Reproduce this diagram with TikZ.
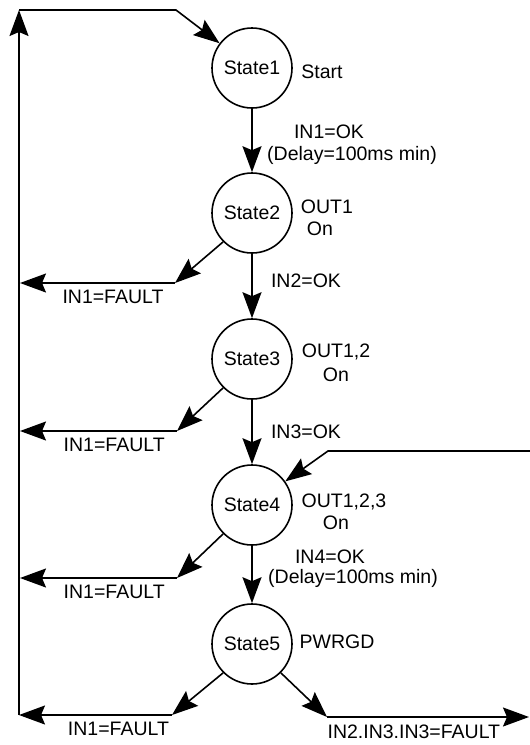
\documentclass[tikz,border=0pt]{standalone}
\usepackage{fontspec}
\setmainfont{Liberation Sans}
\usetikzlibrary{arrows.meta}
\begin{document}
\begin{tikzpicture}[x=1pt, y=-1pt, line width=1.6pt,
        every node/.style={font=\fontsize{19.5}{21}\selectfont},
        state/.style={draw, circle, minimum size=80pt, inner sep=0pt},
        arr/.style={-{Stealth[length=26pt, width=19pt, inset=4pt]}}]
    \useasboundingbox (0,0) rectangle (530,745);
    \path   node[state] (S1) at (252, 68) {State1}
            node[state] (S2) at (252, 213) {State2}
            node[state] (S3) at (252, 359) {State3}
            node[state] (S4) at (252, 505) {State4}
            node[state] (S5) at (252, 644) {State5};
    \path   node (L1) at (322, 72) {Start}
            node (L1a) at (329, 132) {IN1=OK}
            node (L1b) at (352, 155) {(Delay=100ms min)}
            node (L2) at (327, 207) {OUT1}
            node (L2a) at (320, 229) {On}
            node (L2b) at (306, 281) {IN2=OK}
            node (L3) at (336, 352) {OUT1,2}
            node (L3a) at (336, 375) {On}
            node (L3b) at (306, 432) {IN3=OK}
            node (L4) at (344, 502) {OUT1,2,3}
            node (L4a) at (336, 523) {On}
            node (L4b) at (330, 557) {IN4=OK}
            node (L4c) at (353, 578) {(Delay=100ms min)}
            node (L5) at (337, 642) {PWRGD};
    \path   coordinate (TL) at (19, 10)
            coordinate (BL) at (19, 715)
            coordinate (T1) at (176, 10)
            coordinate (R4) at (530, 451)
            coordinate (R4b) at (328, 451)
            coordinate (F2) at (175, 283)
            coordinate (F2e) at (20, 283)
            coordinate (F3) at (177, 431)
            coordinate (F3e) at (20, 431)
            coordinate (F4) at (177, 578)
            coordinate (F4e) at (20, 578)
            coordinate (F5) at (172, 715)
            coordinate (R5) at (327, 717)
            coordinate (R5e) at (529, 717);
    % forward path
    \draw[arr] (S1) -- (S2);
    \draw[arr] (S2) -- (S3);
    \draw[arr] (S3) -- (S4);
    \draw[arr] (S4) -- (S5);
    % loop back to the start
    \draw[arr] (BL) -- (TL);
    \draw[arr] (TL) -- (T1) -- (S1);
    \draw[arr] (R4) -- (R4b) -- (S4);
    % faults
    \draw[arr] (S2.225) -- (F2);
    \draw[arr] (F2) -- node[below=3pt, pos=0.4] (N2) {IN1=FAULT} (F2e);
    \draw[arr] (S3.225) -- (F3);
    \draw[arr] (F3) -- node[below=3pt, pos=0.4] (N3) {IN1=FAULT} (F3e);
    \draw[arr] (S4.225) -- (F4);
    \draw[arr] (F4) -- node[below=3pt, pos=0.4] (N4) {IN1=FAULT} (F4e);
    \draw[arr] (S5.225) -- (F5);
    \draw[arr] (F5) -- node[below=3pt, pos=0.35] (N5) {IN1=FAULT} (BL);
    \draw[arr] (S5.-45) -- (R5);
    \draw[arr] (R5) -- node[below=4pt, pos=0.43] (N6) {IN2.IN3.IN3=FAULT} (R5e);
\end{tikzpicture}
\end{document}
